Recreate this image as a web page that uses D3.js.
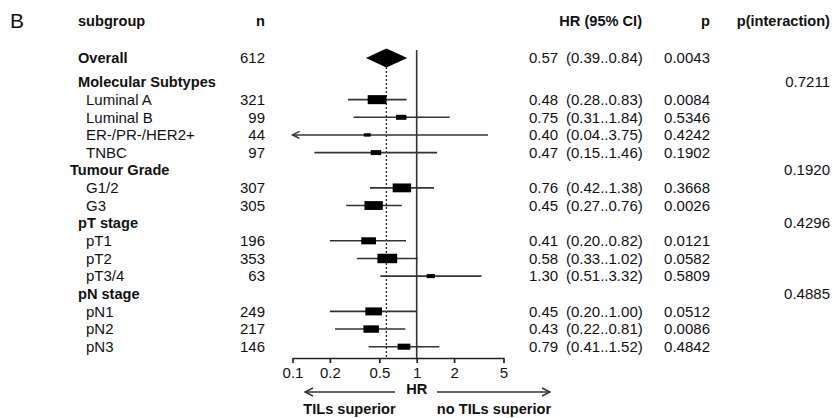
<!DOCTYPE html>
<html>
<head>
<meta charset="utf-8">
<script src="https://cdn.jsdelivr.net/npm/d3@7"></script>
<style>
  body { margin: 0; background: #fff; }
  svg text { font-family: Arial, "Liberation Sans", Helvetica, sans-serif; fill: #111; }
</style>
</head>
<body>
<div id="visContainer"></div>
<script>
'use strict';

// overall estimate
const overallN = 612;
const overallHR = ["0.57", 0.57, 0.39, 0.84];
const overallP = "0.0043";

// group headers and interaction p values
const groupNames = ["Molecular Subtypes", "Tumour Grade", "pT stage", "pN stage"];
const pInteraction = ["0.7211", "0.1920", "0.4296", "0.4885"];

// subgroup rows
const subgroups = ["Luminal A", "Luminal B", "ER-/PR-/HER2+", "TNBC", "G1/2", "G3",
                   "pT1", "pT2", "pT3/4", "pN1", "pN2", "pN3"];
const groupOf = [0, 0, 0, 0, 1, 1, 2, 2, 2, 3, 3, 3];
const nValues = [321, 99, 44, 97, 307, 305, 196, 353, 63, 249, 217, 146];
const hrLabels = ["0.48", "0.75", "0.40", "0.47", "0.76", "0.45", "0.41", "0.58", "1.30", "0.45", "0.43", "0.79"];
const hrValues = [0.48, 0.75, 0.40, 0.47, 0.76, 0.45, 0.41, 0.58, 1.30, 0.45, 0.43, 0.79];
const lowerCI = ["0.28", "0.31", "0.04", "0.15", "0.42", "0.27", "0.20", "0.33", "0.51", "0.20", "0.22", "0.41"];
const upperCI = ["0.83", "1.84", "3.75", "1.46", "1.38", "0.76", "0.82", "1.02", "3.32", "1.00", "0.81", "1.52"];
const pValues = ["0.0084", "0.5346", "0.4242", "0.1902", "0.3668", "0.0026",
                 "0.0121", "0.0582", "0.5809", "0.0512", "0.0086", "0.4842"];

// axis ticks
const tickValues = [0.1, 0.2, 0.5, 1, 2, 5];

var svg = d3.select('#visContainer')
    .append('svg')
    .attr('width', 835)
    .attr('height', 418);

// build the row list: a header for each group followed by its subgroups
var rows = [];
groupNames.forEach(function(g, gi) {
  rows.push({type: 'group', label: g, pint: pInteraction[gi], gi: gi});
  subgroups.forEach(function(s, i) {
    if (groupOf[i] === gi) {
      rows.push({type: 'sub', label: s, n: nValues[i], hrLabel: hrLabels[i], hr: hrValues[i],
                 lo: +lowerCI[i], hi: +upperCI[i], ci: '(' + lowerCI[i] + '..' + upperCI[i] + ')', p: pValues[i]});
    }
  });
});
rows.forEach(function(r, i) { r.idx = i; });

// scales
var x = d3.scaleLog().domain([0.1, 5]).range([292.5, 503.5]);
var y = d3.scaleLinear().domain([0, rows.length - 1]).range([82, 346.7]);
var overallY = 58;
var axisY = 358;
var boxW = d3.scaleSqrt().domain([0, 612]).range([0, 26]);

var col = {label: 78, sub: 86, n: 265, hr: 529, ci: 566, ciEnd: 642, p: 710, pint: 830};

// panel letter
svg.append('text').attr('x', 10).attr('y', 28).style('font-size', '21px').text('B');

// column headers
var header = [
  {t: 'subgroup', x: col.label, a: 'start'},
  {t: 'n', x: col.n, a: 'end'},
  {t: 'HR (95% CI)', x: col.ciEnd, a: 'end'},
  {t: 'p', x: col.p, a: 'end'},
  {t: 'p(interaction)', x: col.pint, a: 'end'}
];
svg.selectAll('text.head').data(header).enter().append('text')
  .attr('class', 'head')
  .attr('x', function(d) { return d.x; })
  .attr('y', 21)
  .attr('dy', '0.35em')
  .attr('text-anchor', function(d) { return d.a; })
  .style('font-size', '14.6px').style('font-weight', 'bold')
  .text(function(d) { return d.t; });

// reference lines
svg.append('line')
  .attr('x1', x(1)).attr('x2', x(1))
  .attr('y1', 50).attr('y2', axisY)
  .attr('stroke', '#333').attr('stroke-width', 1.6);
svg.append('line')
  .attr('x1', x(overallHR[1])).attr('x2', x(overallHR[1]))
  .attr('y1', overallY + 9).attr('y2', axisY)
  .attr('stroke', '#222').attr('stroke-width', 1.3)
  .attr('stroke-dasharray', '2,2');

// overall row
function rowText(yy, xx, t, anchor, bold) {
  svg.append('text')
    .attr('x', xx).attr('y', yy).attr('dy', '0.35em')
    .attr('text-anchor', anchor || 'start')
    .style('font-size', bold ? '14.6px' : '15px')
    .style('font-weight', bold ? 'bold' : 'normal')
    .text(t);
}
rowText(overallY, col.label, 'Overall', 'start', true);
rowText(overallY, col.n, overallN, 'end');
rowText(overallY, col.hr, overallHR[0]);
rowText(overallY, col.ci, '(' + overallHR[2].toFixed(2) + '..' + overallHR[3].toFixed(2) + ')');
rowText(overallY, col.p, overallP, 'end');

svg.append('path')
  .attr('d', 'M' + x(overallHR[2]) + ',' + overallY +
             'L' + x(overallHR[1]) + ',' + (overallY - 9.5) +
             'L' + x(overallHR[3]) + ',' + overallY +
             'L' + x(overallHR[1]) + ',' + (overallY + 9.5) + 'Z')
  .attr('fill', '#000');

// table rows
rows.forEach(function(r) {
  var yy = y(r.idx);
  if (r.type === 'group') {
    rowText(yy, r.gi === 1 ? 70 : col.label, r.label, 'start', true);
    rowText(yy, col.pint, r.pint, 'end');
  } else {
    rowText(yy, col.sub, r.label);
    rowText(yy, col.n, r.n, 'end');
    rowText(yy, col.hr, r.hrLabel);
    rowText(yy, col.ci, r.ci);
    rowText(yy, col.p, r.p, 'end');
  }
});

// confidence intervals
var subRows = rows.filter(function(r) { return r.type === 'sub'; });
var g = svg.append('g');
g.selectAll('line.ci').data(subRows).enter().append('line')
  .attr('class', 'ci')
  .attr('x1', function(d) { return x(Math.max(d.lo, 0.1)); })
  .attr('x2', function(d) { return x(Math.min(d.hi, 5)); })
  .attr('y1', function(d) { return y(d.idx); })
  .attr('y2', function(d) { return y(d.idx); })
  .attr('stroke', '#333').attr('stroke-width', 1.6);

// arrowheads where the interval runs off the axis
subRows.filter(function(d) { return d.lo < 0.1; }).forEach(function(d) {
  var ax = x(0.1), ay = y(d.idx);
  g.append('path')
    .attr('d', 'M' + (ax + 7) + ',' + (ay - 3.5) + 'L' + ax + ',' + ay + 'L' + (ax + 7) + ',' + (ay + 3.5))
    .attr('fill', 'none').attr('stroke', '#333').attr('stroke-width', 1.5);
});

// boxes
g.selectAll('rect.box').data(subRows).enter().append('rect')
  .attr('class', 'box')
  .attr('x', function(d) { return x(d.hr) - boxW(d.n) / 2; })
  .attr('y', function(d) { return y(d.idx) - boxW(d.n) * 0.24; })
  .attr('width', function(d) { return boxW(d.n); })
  .attr('height', function(d) { return boxW(d.n) * 0.48; })
  .attr('fill', '#000');

// x axis
var axis = svg.append('g')
  .attr('transform', 'translate(0,' + axisY + ')')
  .call(d3.axisBottom(x).tickValues(tickValues).tickFormat(function(d) { return d; })
        .tickSize(5).tickSizeOuter(0).tickPadding(4));
axis.select('.domain').attr('stroke', '#222').attr('stroke-width', 1.7);
axis.selectAll('.tick line').attr('stroke', '#222').attr('stroke-width', 1.7);
axis.selectAll('.tick text')
  .style('font-size', '15px')
  .style('font-family', 'Arial, "Liberation Sans", Helvetica, sans-serif')
  .attr('fill', '#111');

// axis title and direction arrows
svg.append('text').attr('x', x(1)).attr('y', 389).attr('dy', '0.35em')
  .attr('text-anchor', 'middle').style('font-size', '14.6px').style('font-weight', 'bold').text('HR');

function arrow(x1, x2, yy) {
  var dir = x2 > x1 ? -1 : 1;
  svg.append('line').attr('x1', x1).attr('x2', x2).attr('y1', yy).attr('y2', yy)
    .attr('stroke', '#333').attr('stroke-width', 1.4);
  svg.append('path')
    .attr('d', 'M' + (x2 + dir * 8) + ',' + (yy - 4) + 'L' + x2 + ',' + yy + 'L' + (x2 + dir * 8) + ',' + (yy + 4))
    .attr('fill', 'none').attr('stroke', '#333').attr('stroke-width', 1.4);
}
arrow(395, 305, 392);
arrow(437, 550, 392);

svg.append('text').attr('x', 349.5).attr('y', 408.5).attr('dy', '0.35em')
  .attr('text-anchor', 'middle').style('font-size', '14.6px').style('font-weight', 'bold').text('TILs superior');
svg.append('text').attr('x', 494).attr('y', 408.5).attr('dy', '0.35em')
  .attr('text-anchor', 'middle').style('font-size', '14.6px').style('font-weight', 'bold').text('no TILs superior');
</script>
</body>
</html>
